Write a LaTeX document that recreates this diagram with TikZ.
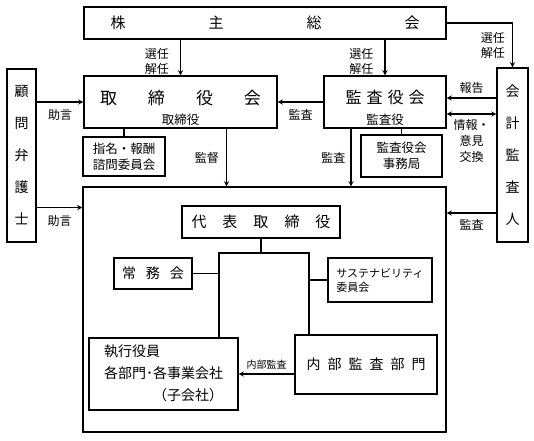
\documentclass[tikz,border=0pt]{standalone}
\usepackage{fontspec}
\setmainfont{Noto Sans CJK JP}
\usetikzlibrary{positioning, arrows}
\tikzset{
	>=stealth, % filled arrow heads
	box/.style={draw, line width=1.3pt, inner sep=0pt, align=center}, % every framed box
	lbl/.style={font=\fontsize{12}{15}\selectfont, inner sep=1pt, align=center}, % text beside the arrows
	sub/.style={font=\fontsize{12.5}{15}\selectfont, anchor=south, inner sep=1pt, yshift=2pt}, % second line in the two board boxes
	link/.style={line width=1.3pt}, % plain connecting lines
	flow/.style={line width=1.3pt, ->}, % directed lines
}
\begin{document}
\begin{tikzpicture}[x=1pt, y=-1pt]
	\useasboundingbox (0,0) rectangle (534,440);
	% shareholders on top
	\node[box, minimum width=362pt, minimum height=32pt, font=\fontsize{15}{18}\selectfont] (Kabu) at (265,23) {株\hspace{83pt}主\hspace{83pt}総\hspace{83pt}会};
	% the two boards, title lifted a little
	\node[box, minimum width=193pt, minimum height=52pt, font=\fontsize{17}{20}\selectfont, text depth=10pt,
		label={[sub]south:取締役}] (Board) at (180.5,102) {取\hspace{31pt}締\hspace{31pt}役\hspace{31pt}会};
	\node[box, minimum width=122pt, minimum height=52pt, font=\fontsize{16}{20}\selectfont, text depth=10pt,
		label={[sub]south:監査役}] (Audit) at (385,102) {監\hspace{5pt}査\hspace{5pt}役\hspace{5pt}会};
	% outside: lawyers and the accounting auditor
	\node[box, minimum width=29pt, minimum height=173pt, font=\fontsize{14}{32}\selectfont] (Komon) at (21.5,155.5) {顧\\問\\弁\\護\\士};
	\node[box, minimum width=31pt, minimum height=174pt, font=\fontsize{14}{32}\selectfont] (Kaikei) at (512.5,155) {会\\計\\監\\査\\人};
	% committees under the boards
	\node[box, minimum width=82pt, minimum height=39pt, font=\fontsize{12.5}{16}\selectfont] (Shimei) at (124,156.5) {指名・報酬\\諮問委員会};
	\node[box, minimum width=81pt, minimum height=42pt, font=\fontsize{12.5}{16}\selectfont] (Jimu) at (401.5,156) {監査役会\\事務局};

	%% the executive frame
	\node[box, minimum width=363pt, minimum height=245pt] (Big) at (264.5,309.5) {};
	\node[box, minimum width=158pt, minimum height=32pt, font=\fontsize{15}{18}\selectfont] (Daihyo) at (261,222) {代\hspace{16pt}表\hspace{16pt}取\hspace{16pt}締\hspace{16pt}役};
	\node[box, minimum width=78pt, minimum height=31pt, font=\fontsize{14}{18}\selectfont] (Jomu) at (153,273.5) {常\hspace{10pt}務\hspace{10pt}会};
	\node[box, minimum width=104pt, minimum height=44pt, font=\fontsize{11}{14}\selectfont, align=left] (Sustain) at (380,280) {サステナビリティ\\委員会};
	\node[box, minimum width=142pt, minimum height=59pt, font=\fontsize{14}{18}\selectfont] (Naibu) at (366,364.5) {内\hspace{7pt}部\hspace{7pt}監\hspace{7pt}査\hspace{7pt}部\hspace{7pt}門};
	\node[box, minimum width=149pt, minimum height=72pt, font=\fontsize{14}{22}\selectfont] (Shikko) at (163.5,374)
		{\begin{tabular}{@{}l@{}}執行役員\\各部門･各事業会社\\\hfill（子会社）\end{tabular}};

	% election by the shareholders
	\draw[flow] (Kabu.south -| Board.north) -- (Board.north) node[lbl, pos=0.6, left=10pt]{選任\\解任};
	\draw[flow] (Kabu.south -| Audit.north) -- (Audit.north) node[lbl, pos=0.6, left=10pt]{選任\\解任};
	\draw[flow] (Kabu.east) -| (Kaikei.north) node[lbl, pos=0.75, left=6pt]{選任\\解任};

	% advice from the lawyers
	\draw[flow] (Komon.east |- Board.west) -- (Board.west) node[lbl, midway, below=6pt]{助言};
	\draw[flow] ([yshift=-52pt]Komon.east) -- ([yshift=-52pt]Komon.east -| Big.west) node[lbl, midway, below=6pt]{助言};

	% audit lines
	\draw[flow] (Audit.west) -- (Board.east) node[lbl, midway, below=6pt]{監査};
	\draw[flow] ([yshift=4pt]Kaikei.west |- Audit.east) -- ([yshift=4pt]Audit.east) node[lbl, midway, above=3pt]{報告};
	\draw[link, <->] ([yshift=-12pt]Kaikei.west |- Audit.east) -- ([yshift=-12pt]Audit.east) node[lbl, midway, below=4pt, font=\fontsize{12}{16}\selectfont]{情報・\\意見\\交換};
	\draw[flow] ([yshift=-58pt]Kaikei.west) -- ([yshift=-58pt]Kaikei.west -| Big.east) node[lbl, midway, below=5pt]{監査};
	\draw[flow] ([xshift=46pt]Board.south) -- ([xshift=46pt]Board.south |- Big.north) node[lbl, midway, left=6pt]{監督};
	\draw[flow] ([xshift=-34pt]Audit.south) -- ([xshift=-34pt]Audit.south |- Big.north) node[lbl, midway, left=4pt]{監査};

	% committees hang under their boards
	\draw[link] (Shimei.north) -- (Shimei.north |- Board.south);
	\draw[link] (Jimu.north) -- (Jimu.north |- Audit.south);

	%% inside the frame
	\coordinate (LeftBus) at (219,253);
	\coordinate (RightBus) at (309,253);
	\draw[link] (Daihyo.south) -- (Daihyo.south |- LeftBus);
	\draw[link] (Shikko.north -| LeftBus) -- (LeftBus) -- (RightBus) -- (RightBus |- Naibu.north);
	\draw[link] (Jomu.east) -- (Jomu.east -| LeftBus);
	\draw[link] (Sustain.west) -- (Sustain.west -| RightBus);
	\draw[flow] (Naibu.west |- Shikko.east) -- (Shikko.east) node[lbl, midway, above=3pt, font=\fontsize{10}{12}\selectfont]{内部監査};
\end{tikzpicture}
\end{document}
